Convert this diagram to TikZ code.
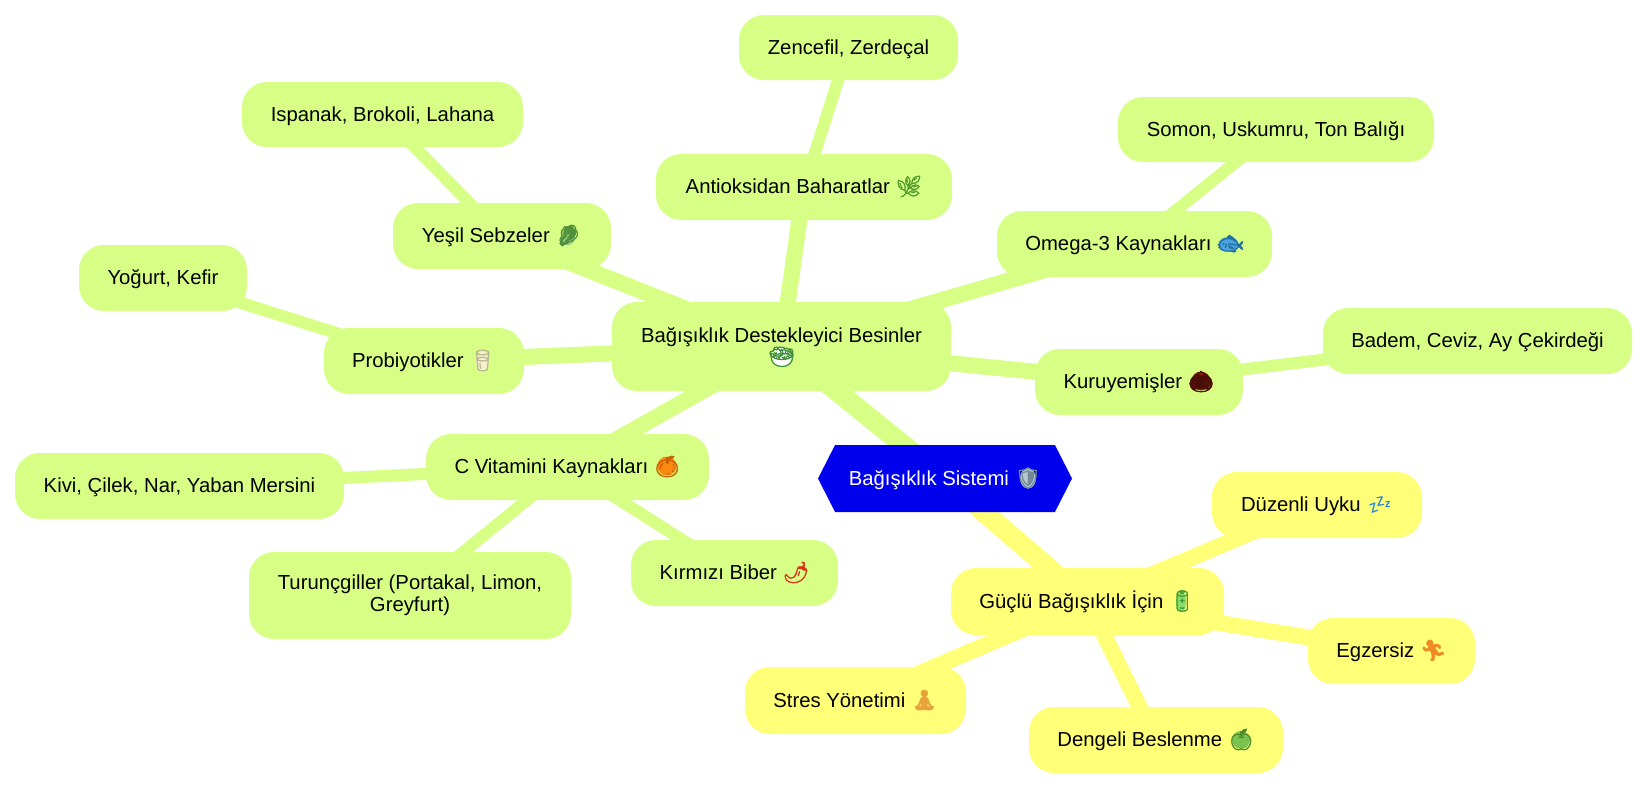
\documentclass[tikz,border=0pt]{standalone}
\usepackage{fontspec}
\setmainfont{Liberation Sans}
\newfontfamily\emojifont[FakeBold=1.5]{Noto Emoji}
\usetikzlibrary{backgrounds,shapes.symbols}
\definecolor{rootblue}{HTML}{0000EC}
\definecolor{lime}{HTML}{D7FF86}
\definecolor{lemon}{HTML}{FFFF78}
\definecolor{eShield}{HTML}{6F8A96}
\definecolor{eSalad}{HTML}{3E8E3A}
\definecolor{eHerb}{HTML}{4F9A2A}
\definecolor{eLeaf}{HTML}{4F8F3A}
\definecolor{eMilk}{HTML}{B9B58F}
\definecolor{eFish}{HTML}{1F6FA8}
\definecolor{eNut}{HTML}{4A0E06}
\definecolor{eOrange}{HTML}{C85F00}
\definecolor{ePepper}{HTML}{D8301A}
\definecolor{eBattery}{HTML}{3E9A2E}
\definecolor{eZzz}{HTML}{1E88E5}
\definecolor{eRun}{HTML}{F08A24}
\definecolor{eApple}{HTML}{4C8C2B}
\definecolor{eYoga}{HTML}{E8A33D}
\definecolor{bShield}{HTML}{B7C7CE}
\definecolor{bSalad}{HTML}{FFFFFF}
\definecolor{bLeaf}{HTML}{8FC77A}
\definecolor{bMilk}{HTML}{F5F1D0}
\definecolor{bFish}{HTML}{4AA3DC}
\definecolor{bNut}{HTML}{8A2413}
\definecolor{bOrange}{HTML}{F98A10}
\definecolor{bBattery}{HTML}{8ADB6A}
\definecolor{bApple}{HTML}{7CC24F}
\newcommand{\emo}[2]{\smash{\textcolor{#1}{\emojifont\fontsize{21}{22}\selectfont #2}}}
\tikzset{
  base/.style={font=\fontsize{20.3}{22}\selectfont,text=black,rounded corners=25pt,inner sep=0pt,align=center},
  limebox/.style={base,fill=lime},
  lemonbox/.style={base,fill=lemon},
  oneline/.style={text height=18pt,text depth=4.6pt},
  rootbox/.style={signal,signal to=east and west,signal pointer angle=126,fill=rootblue,text=white,inner sep=0pt,
    font=\fontsize{20.3}{22}\selectfont,oneline},
  disc/.style n args={5}{path picture={\fill[#5] ([shift={(#1pt,#2pt)}]path picture bounding box.center) ellipse [x radius=#3pt,y radius=#4pt];}},
  wide/.style={line width=20pt,line cap=butt},
  mid/.style={line width=16pt,line cap=butt},
  thin/.style={line width=12pt,line cap=butt},
}
\newcommand{\bx}[6]{%
  \node[#2,minimum width={(#5)-(#3)},minimum height={(#6)-(#4)}] (#1) at ({((#3)+(#5))/2},{((#4)+(#6))/2})}
\begin{document}
\begin{tikzpicture}[x=1pt,y=-1pt]
\useasboundingbox (0,0) rectangle (1650,790);
\bx{root}{rootbox,disc={83}{0}{8}{10}{bShield}}{818}{445}{1072}{512} {Bağışıklık Sistemi \emo{eShield}{🛡}};
\bx{besin}{limebox,disc={0}{-10.5}{9.5}{9.5}{bSalad}}{612}{302}{951}{391} {\rule{0pt}{18pt}Bağışıklık Destekleyici Besinler\\\emo{eSalad}{🥗}\rule[-5pt]{0pt}{5pt}};
\bx{guclu}{lemonbox,oneline,disc={93.5}{0}{5}{10}{bBattery}}{951}{568}{1224}{635} {Güçlü Bağışıklık İçin \emo{eBattery}{🔋}};
\bx{uyku}{lemonbox,oneline}{1212}{472}{1422}{538} {Düzenli Uyku \emo{eZzz}{💤}};
\bx{egz}{lemonbox,oneline}{1308}{618}{1475}{684} {Egzersiz \emo{eRun}{🏃}};
\bx{denge}{lemonbox,oneline,disc={85}{0}{9}{9}{bApple}}{1029}{707}{1283}{773} {Dengeli Beslenme \emo{eApple}{🍏}};
\bx{stres}{lemonbox,oneline}{745}{667}{966}{734} {Stres Yönetimi \emo{eYoga}{🧘}};
\bx{yesil}{limebox,oneline,disc={66}{0}{7}{9}{bLeaf}}{393}{203}{611}{269} {Yeşil Sebzeler \emo{eLeaf}{🥬}};
\bx{probi}{limebox,oneline,disc={58}{0}{6}{10}{bMilk}}{324}{328}{524}{394} {Probiyotikler \emo{eMilk}{🥛}};
\bx{anti}{limebox,oneline}{656}{154}{952}{220} {Antioksidan Baharatlar \emo{eHerb}{🌿}};
\bx{omega}{limebox,oneline,disc={94}{0}{10}{7}{bFish}}{997}{211}{1272}{277} {Omega-3 Kaynakları \emo{eFish}{🐟}};
\bx{kuru}{limebox,oneline,disc={62}{1}{9.5}{9.5}{bNut}}{1035}{349}{1243}{415} {Kuruyemişler \emo{eNut}{🌰}};
\bx{cvit}{limebox,oneline,disc={99.5}{1}{9.5}{9.5}{bOrange}}{426}{434}{709}{500} {C Vitamini Kaynakları \emo{eOrange}{🍊}};
\bx{biber}{limebox,oneline}{631}{540}{838}{606} {Kırmızı Biber \emo{ePepper}{🌶}};
\bx{turun}{limebox}{249}{552}{571}{639} {\rule{0pt}{14pt}Turunçgiller (Portakal, Limon,\\Greyfurt)\rule[-5pt]{0pt}{5pt}};
\bx{kivi}{limebox,oneline}{15}{453}{344}{519} {Kivi, Çilek, Nar, Yaban Mersini};
\bx{yogurt}{limebox,oneline}{79}{245}{247}{311} {Yoğurt, Kefir};
\bx{ispanak}{limebox,oneline}{242}{82}{523}{147} {Ispanak, Brokoli, Lahana};
\bx{zen}{limebox,oneline}{739}{15}{958}{80} {Zencefil, Zerdeçal};
\bx{somon}{limebox,oneline}{1118}{97}{1434}{162} {Somon, Uskumru, Ton Balığı};
\bx{badem}{limebox,oneline}{1323}{308}{1632}{374} {Badem, Ceviz, Ay Çekirdeği};
\begin{scope}[on background layer]
\draw[wide,draw=lime] (root.center) -- (besin.center);
\draw[wide,draw=lemon] (root.center) -- (guclu.center);
\foreach \a in {yesil,probi,anti,omega,kuru,cvit} \draw[mid,draw=lime] (besin.center) -- (\a.center);
\foreach \a in {uyku,egz,denge,stres} \draw[mid,draw=lemon] (guclu.center) -- (\a.center);
\draw[thin,draw=lime] (yesil.center) -- (ispanak.center);
\draw[thin,draw=lime] (probi.center) -- (yogurt.center);
\draw[thin,draw=lime] (anti.center) -- (zen.center);
\draw[thin,draw=lime] (omega.center) -- (somon.center);
\draw[thin,draw=lime] (kuru.center) -- (badem.center);
\draw[thin,draw=lime] (cvit.center) -- (biber.center);
\draw[thin,draw=lime] (cvit.center) -- (turun.center);
\draw[thin,draw=lime] (cvit.center) -- (kivi.center);
\end{scope}
\end{tikzpicture}
\end{document}
